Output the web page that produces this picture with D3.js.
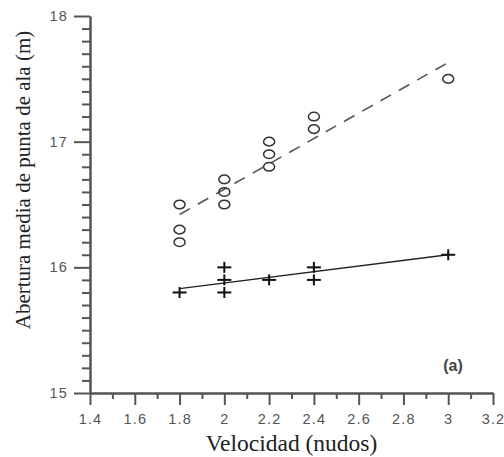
<!DOCTYPE html>
<html><head><meta charset="utf-8">
<script src="https://cdn.jsdelivr.net/npm/d3@7"></script>
<style>body{margin:0;background:#fff}svg{display:block}</style>
</head><body><svg id="c" width="504" height="457"></svg>
<script>
// Data
const circleX = [1.8,1.8,1.8, 2.0,2.0,2.0, 2.2,2.2,2.2, 2.4,2.4, 3.0];
const circleY = [16.5,16.3,16.2, 16.7,16.6,16.5, 17.0,16.9,16.8, 17.2,17.1, 17.5];
const plusX = [1.8, 2.0,2.0,2.0, 2.2, 2.4,2.4, 3.0];
const plusY = [15.8, 16.0,15.9,15.8, 15.9, 16.0,15.9, 16.1];
const dashedFit = [[1.8,16.42],[3.0,17.63]];
const solidFit = [[1.8,15.83],[3.0,16.10]];
const xTicks = [1.4,1.6,1.8,2.0,2.2,2.4,2.6,2.8,3.0,3.2];
const xTickLabels = ["1.4","1.6","1.8","2","2.2","2.4","2.6","2.8","3","3.2"];
const xMinor = [1.5,1.7,1.9,2.1,2.3,2.5,2.7,2.9,3.1];
const yTicks = [15,16,17,18];
const yTickLabels = ["15","16","17","18"];
const yMinor = [15.1,15.2,15.3,15.4,15.5,15.6,15.7,15.8,15.9,16.1,16.2,16.3,16.4,16.5,16.6,16.7,16.8,16.9,17.1,17.2,17.3,17.4,17.5,17.6,17.7,17.8,17.9];

const svg = d3.select("#c");
const x = d3.scaleLinear().domain([1.4,3.2]).range([90,493]);
const y = d3.scaleLinear().domain([15,18]).range([393,16]);
const axisColor = "#555";

function styleAxis(g){
  g.attr("font-family","Liberation Sans").attr("font-size",14.5);
  g.selectAll("path,line").attr("stroke",axisColor).attr("stroke-width",2);
  g.selectAll("text").attr("fill","#555").attr("letter-spacing",1.2);
}

svg.append("g").attr("transform","translate(0,393)")
  .call(d3.axisBottom(x).tickValues(xMinor).tickSize(6).tickSizeOuter(0).tickFormat(""))
  .call(styleAxis);
svg.append("g").attr("transform","translate(0,393)")
  .call(d3.axisBottom(x).tickValues(xTicks).tickSize(12).tickSizeOuter(0).tickPadding(9)
    .tickFormat((d,i)=>xTickLabels[i]))
  .call(styleAxis);
svg.append("g").attr("transform","translate(90,0)")
  .call(d3.axisLeft(y).tickValues(yMinor).tickSize(8).tickSizeOuter(0).tickFormat(""))
  .call(styleAxis);
svg.append("g").attr("transform","translate(90,0)")
  .call(d3.axisLeft(y).tickValues(yTicks).tickSize(16).tickSizeOuter(0).tickPadding(6)
    .tickFormat((d,i)=>yTickLabels[i]))
  .call(styleAxis);

const line = d3.line().x(d=>x(d[0])).y(d=>y(d[1]));
svg.append("path").datum(dashedFit).attr("d",line).attr("fill","none")
  .attr("stroke","#555").attr("stroke-width",1.6).attr("stroke-dasharray","12,9");
svg.append("path").datum(solidFit).attr("d",line).attr("fill","none")
  .attr("stroke","#222").attr("stroke-width",1.3);

svg.append("g").selectAll("ellipse").data(circleX).join("ellipse")
  .attr("cx",(d,i)=>x(d)).attr("cy",(d,i)=>y(circleY[i]))
  .attr("rx",5.5).attr("ry",4.3).attr("fill","none").attr("stroke","#333").attr("stroke-width",1.5);

const pg = svg.append("g");
plusX.forEach((d,i)=>{
  const cx=x(d), cy=y(plusY[i]);
  pg.append("line").attr("x1",cx-7).attr("x2",cx+7).attr("y1",cy).attr("y2",cy)
    .attr("stroke","#111").attr("stroke-width",2);
  pg.append("line").attr("x1",cx).attr("x2",cx).attr("y1",cy-5.5).attr("y2",cy+5.5)
    .attr("stroke","#111").attr("stroke-width",2);
});

svg.append("text").attr("x",291.5).attr("y",451).attr("text-anchor","middle")
  .attr("font-family","Liberation Serif").attr("font-size",23.5).attr("fill","#222").text("Velocidad (nudos)");
svg.append("text").attr("transform","translate(29.5,180) rotate(-90)").attr("text-anchor","middle")
  .attr("font-family","Liberation Serif").attr("font-size",21).attr("fill","#222").text("Abertura media de punta de ala (m)");
svg.append("text").attr("x",453).attr("y",371).attr("text-anchor","middle")
  .attr("font-family","Liberation Sans").attr("font-size",16).attr("font-weight","bold").attr("fill","#444").text("(a)");
</script></body></html>
